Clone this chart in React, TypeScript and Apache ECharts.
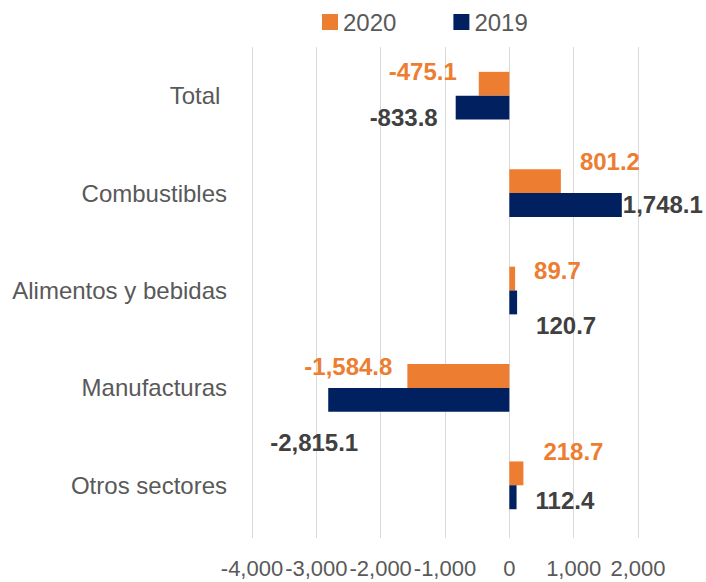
import React, { useEffect, useRef } from "react";
import * as echarts from "echarts";

const categories = ["Total ", "Combustibles", "Alimentos y bebidas", "Manufacturas", "Otros sectores"];
const values2020 = [-475.1, 801.2, 89.7, -1584.8, 218.7];
const values2019 = [-833.8, 1748.1, 120.7, -2815.1, 112.4];
const seriesNames = ["2020", "2019"];

// label nudges (px) relative to bar end, per category
const labelNudge2020: [number, number][] = [[-22, -12], [19, -20], [19, -8], [-15, -9], [20, -22]];
const labelNudge2019: [number, number][] = [[-18, 10], [1, -1], [19, 23], [30, 43], [19, 3]];

const fmt = (v: number) =>
  v.toLocaleString("en-US", { minimumFractionDigits: 1, maximumFractionDigits: 1 });

function buildData(values: number[], nudges: [number, number][]) {
  return values.map((v, i) => ({
    value: v,
    label: {
      position: v < 0 ? "left" : "right",
      distance: 0,
      offset: nudges[i],
    },
  }));
}

export default function App() {
  const ref = useRef<HTMLDivElement>(null);
  useEffect(() => {
    document.body.style.margin = "0";
    const chart = echarts.init(ref.current!, undefined, { renderer: "svg" });
    const labelBase = {
      show: true,
      fontFamily: "Liberation Sans, Arial, sans-serif",
      fontWeight: "bold",
      fontSize: 24,
      formatter: (p: any) => fmt(p.value),
    };
    chart.setOption({
      animation: false,
      backgroundColor: "#ffffff",
      legend: {
        data: seriesNames,
        left: 322,
        top: 10,
        padding: 0,
        itemWidth: 16,
        itemHeight: 16,
        itemGap: 57,
        icon: "rect",
        textStyle: { fontFamily: "Liberation Sans, Arial, sans-serif", fontSize: 24, color: "#595959" },
      },
      grid: { left: 252, right: 68, top: 47, bottom: 48, outerBoundsMode: "none" },
      xAxis: {
        type: "value",
        min: -4000,
        max: 2000,
        interval: 1000,
        axisLine: { show: false },
        axisTick: { show: true, length: 4, lineStyle: { color: "#d9d9d9" } },
        splitLine: { show: true, lineStyle: { color: "#d9d9d9", width: 1 } },
        axisLabel: {
          margin: 23,
          fontFamily: "Liberation Sans, Arial, sans-serif",
          fontSize: 22,
          color: "#595959",
          formatter: (v: number) => v.toLocaleString("en-US"),
        },
      },
      yAxis: {
        type: "category",
        data: categories,
        inverse: true,
        axisLine: { show: false },
        axisTick: { show: false },
        axisLabel: {
          margin: 25,
          fontFamily: "Liberation Sans, Arial, sans-serif",
          fontSize: 24,
          color: "#595959",
        },
      },
      series: [
        {
          name: seriesNames[0],
          type: "bar",
          data: buildData(values2020, labelNudge2020),
          itemStyle: { color: "#ED7D31" },
          barCategoryGap: "51%",
          barGap: "0%",
          label: { ...labelBase, color: "#ED7D31" },
        },
        {
          name: seriesNames[1],
          type: "bar",
          data: buildData(values2019, labelNudge2019),
          itemStyle: { color: "#002060" },
          barCategoryGap: "51%",
          barGap: "0%",
          label: { ...labelBase, color: "#404040" },
        },
      ],
    });
    return () => chart.dispose();
  }, []);
  return <div ref={ref} style={{ width: 706, height: 582 }} />;
}
